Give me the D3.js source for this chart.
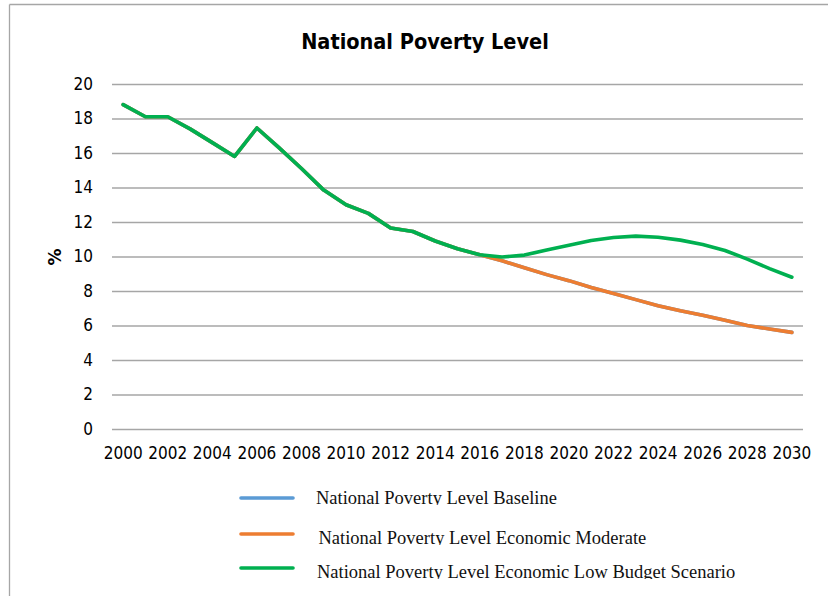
<!DOCTYPE html>
<html>
<head>
<meta charset="utf-8">
<script src="https://cdn.jsdelivr.net/npm/d3@7"></script>
<style>
  html, body { margin: 0; padding: 0; background: #fff; }
  svg { display: block; }
</style>
</head>
<body>
<svg id="chart" width="828" height="596"></svg>
<script>
const years = d3.range(2000, 2031);
const yTicks = [0, 2, 4, 6, 8, 10, 12, 14, 16, 18, 20];
const xTickLabels = years.filter(y => y % 2 === 0).map(String);

const seriesNames = [
  "National Poverty Level Baseline",
  "National Poverty Level Economic Moderate",
  "National Poverty Level Economic Low Budget Scenario"
];
const seriesColors = ["#5B9BD5", "#ED7D31", "#00B050"];

const baselineValues = [18.8, 18.1, 18.1, 17.4, 16.6, 15.8, 17.45, 16.3, 15.1, 13.85,
  13.0, 12.5, 11.65, 11.45, 10.9, 10.45, 10.1, 9.75, 9.35, 8.95,
  8.6, 8.2, 7.85, 7.5, 7.15, 6.85, 6.6, 6.3, 6.0, 5.8, 5.6];
const moderateValues = [18.8, 18.1, 18.1, 17.4, 16.6, 15.8, 17.45, 16.3, 15.1, 13.85,
  13.0, 12.5, 11.65, 11.45, 10.9, 10.45, 10.1, 9.75, 9.35, 8.95,
  8.6, 8.2, 7.85, 7.5, 7.15, 6.85, 6.6, 6.3, 6.0, 5.8, 5.6];
const lowBudgetValues = [18.8, 18.1, 18.1, 17.4, 16.6, 15.8, 17.45, 16.3, 15.1, 13.85,
  13.0, 12.5, 11.65, 11.45, 10.9, 10.45, 10.1, 9.97, 10.08, 10.38,
  10.65, 10.93, 11.1, 11.18, 11.12, 10.95, 10.7, 10.35, 9.85, 9.3, 8.8];

const seriesValues = [baselineValues, moderateValues, lowBudgetValues];

const svg = d3.select("#chart");

// frame
svg.append("line").attr("x1", 9.5).attr("x2", 828).attr("y1", 4.5).attr("y2", 4.5)
  .attr("stroke", "#a6a6a6").attr("stroke-width", 1.3);
svg.append("line").attr("x1", 9.5).attr("x2", 9.5).attr("y1", 4.5).attr("y2", 596)
  .attr("stroke", "#a6a6a6").attr("stroke-width", 1.3);

const x = d3.scaleBand().domain(years.map(String)).range([112, 803]);
const y = d3.scaleLinear().domain([0, 20]).range([429, 84]);
const xc = yr => x(String(yr)) + x.bandwidth() / 2;

const axisFont = "'DejaVu Sans Condensed', 'DejaVu Sans', sans-serif";

// title
svg.append("text")
  .attr("x", 425).attr("y", 49)
  .attr("text-anchor", "middle")
  .attr("font-family", "'DejaVu Sans Condensed', 'DejaVu Sans', sans-serif")
  .attr("font-weight", "bold")
  .attr("font-size", 21.5)
  .attr("fill", "#000")
  .text("National Poverty Level");

// y axis (gridlines + labels)
const yAxis = d3.axisLeft(y).tickValues(yTicks).tickSize(-(803 - 112)).tickPadding(19)
  .tickFormat(d3.format("d"));
const gy = svg.append("g").attr("transform", "translate(112,0)").call(yAxis);
gy.select(".domain").remove();
gy.selectAll(".tick line").attr("stroke", "#a6a6a6").attr("stroke-width", 1.3);
gy.selectAll(".tick text").attr("font-family", axisFont).attr("font-size", 17).attr("fill", "#000");

// x axis labels
const xAxis = d3.axisBottom(x).tickValues(xTickLabels).tickSize(0).tickPadding(18);
const gx = svg.append("g").attr("transform", "translate(0,429)").call(xAxis);
gx.select(".domain").remove();
gx.selectAll(".tick text").attr("font-family", axisFont).attr("font-size", 17).attr("fill", "#000");

// y label
svg.append("text")
  .attr("transform", "translate(61,257) rotate(-90)")
  .attr("text-anchor", "middle")
  .attr("font-family", "'DejaVu Sans', sans-serif")
  .attr("font-weight", "bold")
  .attr("font-size", 17)
  .text("%");

// lines
const line = d3.line()
  .x((d, i) => xc(years[i]))
  .y(d => y(d));

seriesValues.forEach((vals, i) => {
  svg.append("path")
    .datum(vals)
    .attr("fill", "none")
    .attr("stroke", seriesColors[i])
    .attr("stroke-width", 3.6)
    .attr("stroke-linejoin", "round")
    .attr("stroke-linecap", "round")
    .attr("d", line);
});

// legend
const legendLineY = [498, 534, 568];
const legendTextX = [316, 318.5, 317];
const legendBaseline = [504, 544, 578];
const defs = svg.append("defs");
seriesNames.forEach((name, i) => {
  svg.append("line")
    .attr("x1", 241).attr("x2", 293)
    .attr("y1", legendLineY[i]).attr("y2", legendLineY[i])
    .attr("stroke", seriesColors[i]).attr("stroke-width", 3.6)
    .attr("stroke-linecap", "round");
  defs.append("clipPath").attr("id", "lc" + i)
    .append("rect").attr("x", 300).attr("y", legendBaseline[i] - 25)
    .attr("width", 500).attr("height", 26);
  svg.append("text")
    .attr("x", legendTextX[i]).attr("y", legendBaseline[i])
    .attr("clip-path", "url(#lc" + i + ")")
    .attr("font-family", "'Liberation Serif', 'Times New Roman', serif")
    .attr("font-size", 18.5)
    .attr("fill", "#111")
    .text(name);
});
</script>
</body>
</html>
